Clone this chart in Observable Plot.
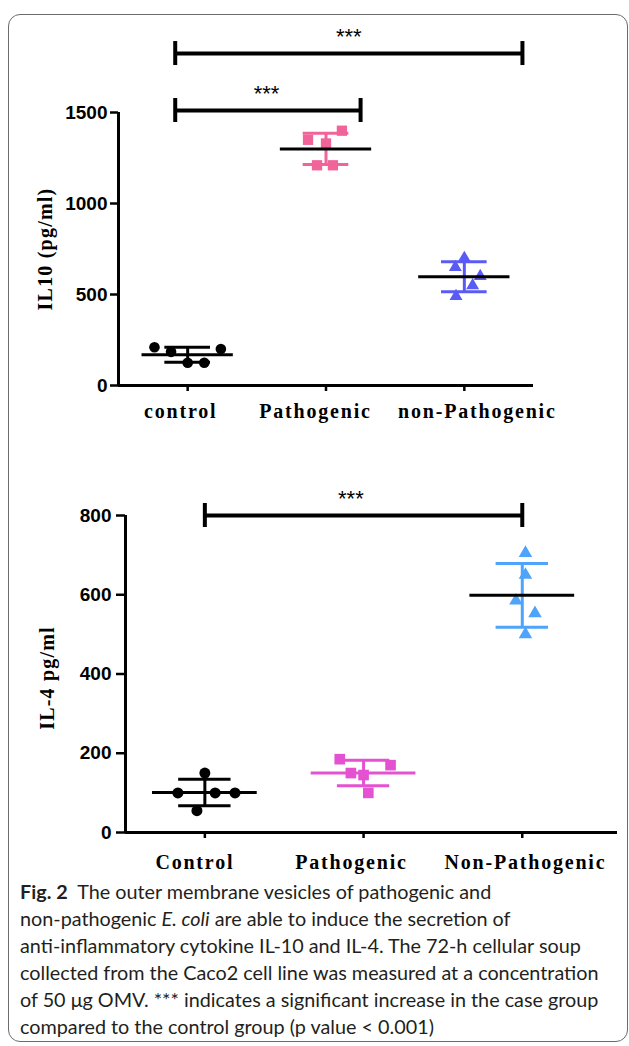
<!DOCTYPE html>
<html><head><meta charset="utf-8">
<script src="https://cdn.jsdelivr.net/npm/d3@7"></script>
<script src="https://cdn.jsdelivr.net/npm/@observablehq/plot@0.6"></script>
<style>
html,body{margin:0;padding:0;background:#fff}
body{width:629px;height:1046px;position:relative;overflow:hidden}
#frame{position:absolute;left:8px;top:14px;width:620px;height:1028px;border:1.3px solid #6b6b6b;border-radius:12px;box-sizing:border-box}
#top,#bottom{position:absolute;left:0}
#top{top:0}
#bottom{top:460px}
#caption{position:absolute;left:20px;top:878px;font-family:Lato,"Open Sans",sans-serif;font-size:19.8px;line-height:27px;color:#231f20;white-space:nowrap}
#caption b{font-weight:700}
</style></head><body>
<div id="frame"></div>
<div id="top"></div>
<div id="bottom"></div>
<div id="caption"><b>Fig. 2</b>&nbsp; The outer membrane vesicles of pathogenic and<br>non-pathogenic <i>E. coli</i> are able to induce the secretion of<br>anti-inflammatory cytokine IL-10 and IL-4. The 72-h cellular soup<br>collected from the Caco2 cell line was measured at a concentration<br>of 50 μg OMV. *** indicates a significant increase in the case group<br>compared to the control group (p value &lt; 0.001)</div>
<script>
// ---------- IL-10 (top panel) ----------
const il10Categories = ["control", "Pathogenic", "non-Pathogenic"];
const il10LabelX = [-0.05, 0.924, 2.094];
const il10Control = [210, 185, 125, 125, 200];
const il10Pathogenic = [1400, 1350, 1330, 1210, 1210];
const il10NonPathogenic = [700, 650, 600, 550, 490];
const il10ControlJitter = [-0.24, -0.12, 0, 0.12, 0.24];
const il10PathogenicJitter = [0.115, -0.13, 0, -0.065, 0.05];
const il10NonPathogenicJitter = [0, -0.065, 0.115, 0.06, -0.06];
const il10Ticks = [0, 500, 1000, 1500];
const il10BracketFrom = [-0.09, -0.09];
const il10BracketTo = [1.25, 2.42];
const il10BracketLevel = [1511, 1824];
const il10BracketLabelX = [0.57, 1.165];

// ---------- IL-4 (bottom panel) ----------
const il4Categories = ["Control", "Pathogenic", "Non-Pathogenic"];
const il4LabelX = [-0.063, 0.924, 2.02];
const il4Control = [150, 100, 100, 100, 55];
const il4Pathogenic = [185, 145, 170, 100, 150];
const il4NonPathogenic = [705, 650, 585, 553, 500];
const il4ControlJitter = [0, -0.17, 0.065, 0.19, -0.05];
const il4PathogenicJitter = [-0.15, 0, 0.17, 0.03, -0.08];
const il4NonPathogenicJitter = [0.02, 0.02, -0.04, 0.08, 0.02];
const il4Ticks = [0, 200, 400, 600, 800];
const il4BracketFrom = [0];
const il4BracketTo = [2];
const il4BracketLevel = [800];
const il4BracketLabelX = [0.92];

const stars = "***";

function groupMarks(values, jitter, g, opt) {
  const pts = values.map((v, i) => ({x: g + jitter[i], y: v}));
  const m = d3.mean(values), s = d3.deviation(values);
  const st = [{g, m, lo: m - s, hi: m + s}];
  return [
    Plot.dot(pts, {x: "x", y: "y", symbol: opt.symbol, r: opt.r, fill: opt.color, stroke: "none"}),
    Plot.ruleX(st, {x: "g", y1: "lo", y2: "hi", stroke: opt.err, strokeWidth: 3}),
    Plot.ruleY(st, {y: "lo", x1: d => d.g - 0.165, x2: d => d.g + 0.165, stroke: opt.err, strokeWidth: 3}),
    Plot.ruleY(st, {y: "hi", x1: d => d.g - 0.165, x2: d => d.g + 0.165, stroke: opt.err, strokeWidth: 3}),
    Plot.ruleY(st, {y: "m", x1: d => d.g - 0.33, x2: d => d.g + 0.33, stroke: opt.mean, strokeWidth: 3})
  ];
}

function bracketMarks(from, to, level, labelX) {
  const b = from.map((f, i) => ({x1: f, x2: to[i], y: level[i], lx: labelX[i]}));
  return [
    Plot.ruleY(b, {y: "y", x1: "x1", x2: "x2", strokeWidth: 4}),
    Plot.ruleX(b, {x: "x1", y1: "y", y2: "y", insetTop: -12, insetBottom: -12, strokeWidth: 4}),
    Plot.ruleX(b, {x: "x2", y1: "y", y2: "y", insetTop: -12, insetBottom: -12, strokeWidth: 4}),
    Plot.text(b, {x: "lx", y: "y", text: () => stars, dy: -17, fontSize: 22, fontFamily: "Liberation Sans", lineAnchor: "middle"})
  ];
}

function panel(cfg) {
  const labels = cfg.categories.map((c, i) => ({c, x: cfg.labelX[i]}));
  const chart = Plot.plot({
    width: 629,
    height: cfg.height,
    marginLeft: cfg.marginLeft,
    marginRight: cfg.marginRight,
    marginTop: cfg.marginTop,
    marginBottom: cfg.marginBottom,
    x: {domain: cfg.xDomain, axis: null},
    y: {domain: [0, cfg.ticks[cfg.ticks.length - 1]], axis: null},
    marks: [
      Plot.axisY({ticks: cfg.ticks, tickFormat: d => String(d), tickSize: cfg.yTickSize, tickPadding: cfg.yTickPadding,
        strokeWidth: 2.5, fontSize: 19, fontWeight: "bold", fontFamily: "Liberation Sans", label: null}),
      Plot.axisX({ticks: [0, 1, 2], tickFormat: null, text: null, tickSize: 6, strokeWidth: 2.5, label: null}),
      Plot.text(labels, {x: "x", y: 0, text: "c", dy: cfg.labelDy, lineAnchor: "top", fontSize: 20, fontWeight: "bold",
        fontFamily: "Liberation Serif"}),
      Plot.ruleX([cfg.xDomain[0]], {y1: 0, y2: cfg.ticks[cfg.ticks.length - 1], strokeWidth: 3}),
      Plot.ruleY([0], {x1: cfg.xDomain[0], x2: cfg.xDomain[1], strokeWidth: 3}),
      Plot.text([cfg.title], {frameAnchor: "left", textAnchor: "middle", dx: cfg.titleDx, dy: cfg.titleDy, rotate: -90,
        fontSize: 20, fontWeight: "bold", fontFamily: "Liberation Serif"}),
      ...groupMarks(cfg.groups[0], cfg.jitters[0], 0, cfg.styles[0]),
      ...groupMarks(cfg.groups[1], cfg.jitters[1], 1, cfg.styles[1]),
      ...groupMarks(cfg.groups[2], cfg.jitters[2], 2, cfg.styles[2]),
      ...bracketMarks(...cfg.brackets)
    ]
  });
  const svg = d3.select(chart);
  svg.selectAll('g[aria-label="y-axis tick label"]').attr("font-weight", "bold").style("font-weight", "bold");
  svg.selectAll('text').filter(function() {
    return cfg.categories.includes(this.textContent);
  }).style("letter-spacing", "1.8px");
  svg.selectAll('text').filter(function() { return this.textContent === cfg.title; })
    .style("letter-spacing", "1.2px");
  return chart;
}

document.getElementById("top").append(panel({
  height: 430, marginLeft: 118, marginRight: 96, marginTop: 112, marginBottom: 45,
  xDomain: [-0.5, 2.5], ticks: il10Ticks, categories: il10Categories, labelX: il10LabelX, labelDy: 18,
  yTickSize: 8, yTickPadding: 3, title: "IL10 (pg/ml)", titleDx: -73, titleDy: 0,
  groups: [il10Control, il10Pathogenic, il10NonPathogenic],
  jitters: [il10ControlJitter, il10PathogenicJitter, il10NonPathogenicJitter],
  styles: [
    {symbol: "circle", r: 5.3, color: "#000", err: "#000", mean: "#000"},
    {symbol: "square", r: 5.8, color: "#f0649a", err: "#f0649a", mean: "#000"},
    {symbol: "triangle", r: 4.8, color: "#5a5af5", err: "#5a5af5", mean: "#000"}
  ],
  brackets: [il10BracketFrom, il10BracketTo, il10BracketLevel, il10BracketLabelX]
}));

document.getElementById("bottom").append(panel({
  height: 417, marginLeft: 125, marginRight: 12, marginTop: 55, marginBottom: 45,
  xDomain: [-0.5, 2.6], ticks: il4Ticks, categories: il4Categories, labelX: il4LabelX, labelDy: 22,
  yTickSize: 9, yTickPadding: 5, title: "IL-4 pg/ml", titleDx: -78, titleDy: 4,
  groups: [il4Control, il4Pathogenic, il4NonPathogenic],
  jitters: [il4ControlJitter, il4PathogenicJitter, il4NonPathogenicJitter],
  styles: [
    {symbol: "circle", r: 5.5, color: "#000", err: "#000", mean: "#000"},
    {symbol: "square", r: 6, color: "#e452d2", err: "#e452d2", mean: "#e452d2"},
    {symbol: "triangle", r: 5, color: "#4ea3fa", err: "#4ea3fa", mean: "#000"}
  ],
  brackets: [il4BracketFrom, il4BracketTo, il4BracketLevel, il4BracketLabelX]
}));
</script>
</body></html>
